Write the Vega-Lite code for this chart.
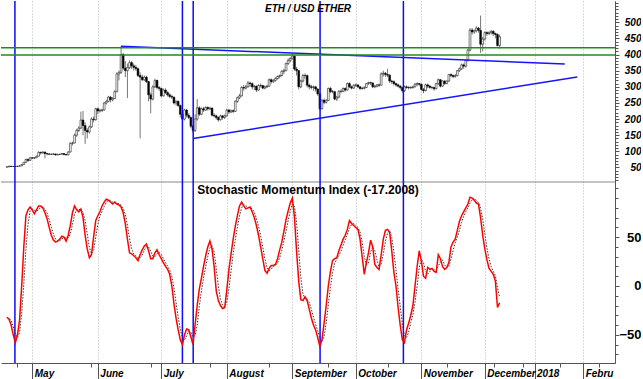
{
"$schema": "https://vega.github.io/schema/vega-lite/v6.json",
"padding": 0,
"background": "white",
"width": 614,
"height": 362,
"config": {"view": {"stroke": null}, "font": "Liberation Sans"},
"datasets": {
"ohlc": [
{"d":-12,"o":51,"h":53,"l":50,"c":52},{"d":-11,"o":52,"h":55,"l":51,"c":54},{"d":-10,"o":54,"h":55,"l":52,"c":53},{"d":-9,"o":53,"h":54,"l":52,"c":53},{"d":-8,"o":53,"h":54,"l":52,"c":53},{"d":-7,"o":53,"h":55,"l":52,"c":54},{"d":-6,"o":54,"h":56,"l":53,"c":55},{"d":-5,"o":55,"h":60,"l":54,"c":59},{"d":-4,"o":59,"h":67,"l":58,"c":66},{"d":-3,"o":66,"h":77,"l":65,"c":75},{"d":-2,"o":75,"h":78,"l":68,"c":72},{"d":-1,"o":72,"h":82,"l":71,"c":80},
{"d":0,"o":80,"h":83,"l":76,"c":79},{"d":1,"o":79,"h":82,"l":76,"c":80},{"d":2,"o":80,"h":87,"l":79,"c":85},{"d":3,"o":85,"h":100,"l":84,"c":97},{"d":4,"o":97,"h":99,"l":90,"c":95},{"d":5,"o":95,"h":100,"l":93,"c":98},{"d":6,"o":98,"h":99,"l":78,"c":93},{"d":7,"o":93,"h":95,"l":88,"c":92},{"d":8,"o":92,"h":94,"l":89,"c":91},{"d":9,"o":91,"h":93,"l":89,"c":91},{"d":10,"o":91,"h":94,"l":89,"c":92},{"d":11,"o":92,"h":93,"l":87,"c":89},{"d":12,"o":89,"h":92,"l":88,"c":91},{"d":13,"o":91,"h":92,"l":89,"c":91},{"d":14,"o":91,"h":95,"l":90,"c":93},{"d":15,"o":93,"h":94,"l":88,"c":90},{"d":16,"o":90,"h":92,"l":87,"c":89},{"d":17,"o":89,"h":100,"l":88,"c":98},{"d":18,"o":98,"h":128,"l":97,"c":125},{"d":19,"o":125,"h":130,"l":118,"c":126},{"d":20,"o":126,"h":155,"l":124,"c":150},{"d":21,"o":150,"h":170,"l":145,"c":165},{"d":22,"o":165,"h":178,"l":160,"c":172},{"d":23,"o":172,"h":223,"l":170,"c":197},{"d":24,"o":197,"h":225,"l":150,"c":180},{"d":25,"o":180,"h":190,"l":123,"c":165},{"d":26,"o":165,"h":172,"l":140,"c":160},{"d":27,"o":160,"h":180,"l":155,"c":176},{"d":28,"o":176,"h":205,"l":172,"c":200},{"d":29,"o":200,"h":208,"l":190,"c":198},{"d":30,"o":198,"h":235,"l":195,"c":232},
{"d":31,"o":232,"h":236,"l":215,"c":225},{"d":32,"o":225,"h":232,"l":220,"c":227},{"d":33,"o":227,"h":232,"l":222,"c":228},{"d":34,"o":228,"h":252,"l":226,"c":250},{"d":35,"o":250,"h":260,"l":245,"c":255},{"d":36,"o":255,"h":272,"l":252,"c":268},{"d":37,"o":268,"h":272,"l":252,"c":260},{"d":38,"o":260,"h":268,"l":255,"c":264},{"d":39,"o":264,"h":290,"l":262,"c":285},{"d":40,"o":285,"h":345,"l":283,"c":340},{"d":41,"o":340,"h":350,"l":320,"c":345},{"d":42,"o":345,"h":426,"l":340,"c":400},{"d":43,"o":400,"h":405,"l":352,"c":358},{"d":44,"o":358,"h":380,"l":330,"c":350},{"d":45,"o":350,"h":372,"l":265,"c":360},{"d":46,"o":360,"h":382,"l":355,"c":375},{"d":47,"o":375,"h":380,"l":355,"c":365},{"d":48,"o":365,"h":372,"l":350,"c":360},{"d":49,"o":360,"h":368,"l":350,"c":356},{"d":50,"o":356,"h":360,"l":330,"c":335},{"d":51,"o":335,"h":345,"l":140,"c":330},{"d":52,"o":330,"h":338,"l":318,"c":322},{"d":53,"o":322,"h":335,"l":318,"c":330},{"d":54,"o":330,"h":334,"l":312,"c":316},{"d":55,"o":316,"h":318,"l":255,"c":275},{"d":56,"o":275,"h":282,"l":218,"c":262},{"d":57,"o":262,"h":305,"l":258,"c":300},{"d":58,"o":300,"h":325,"l":296,"c":320},{"d":59,"o":320,"h":322,"l":292,"c":298},{"d":60,"o":298,"h":302,"l":288,"c":295},
{"d":61,"o":295,"h":298,"l":268,"c":272},{"d":62,"o":272,"h":295,"l":270,"c":290},{"d":63,"o":290,"h":295,"l":278,"c":282},{"d":64,"o":282,"h":286,"l":270,"c":275},{"d":65,"o":275,"h":280,"l":265,"c":270},{"d":66,"o":270,"h":275,"l":262,"c":268},{"d":67,"o":268,"h":270,"l":245,"c":250},{"d":68,"o":250,"h":258,"l":242,"c":255},{"d":69,"o":255,"h":258,"l":238,"c":242},{"d":70,"o":242,"h":245,"l":205,"c":215},{"d":71,"o":215,"h":220,"l":195,"c":200},{"d":72,"o":200,"h":232,"l":196,"c":228},{"d":73,"o":228,"h":232,"l":205,"c":212},{"d":74,"o":212,"h":218,"l":200,"c":205},{"d":75,"o":205,"h":208,"l":172,"c":178},{"d":76,"o":178,"h":182,"l":158,"c":165},{"d":77,"o":165,"h":215,"l":160,"c":200},{"d":78,"o":200,"h":262,"l":195,"c":235},{"d":79,"o":235,"h":240,"l":210,"c":215},{"d":80,"o":215,"h":236,"l":212,"c":232},{"d":81,"o":232,"h":238,"l":222,"c":228},{"d":82,"o":228,"h":240,"l":225,"c":236},{"d":83,"o":236,"h":240,"l":226,"c":232},{"d":84,"o":232,"h":238,"l":228,"c":234},{"d":85,"o":234,"h":236,"l":208,"c":212},{"d":86,"o":212,"h":218,"l":205,"c":210},{"d":87,"o":210,"h":214,"l":198,"c":205},{"d":88,"o":205,"h":208,"l":192,"c":198},{"d":89,"o":198,"h":214,"l":195,"c":210},{"d":90,"o":210,"h":212,"l":198,"c":205},{"d":91,"o":205,"h":214,"l":200,"c":210},
{"d":92,"o":210,"h":232,"l":208,"c":228},{"d":93,"o":228,"h":232,"l":216,"c":222},{"d":94,"o":222,"h":230,"l":218,"c":226},{"d":95,"o":226,"h":230,"l":219,"c":224},{"d":96,"o":224,"h":258,"l":222,"c":255},{"d":97,"o":255,"h":270,"l":250,"c":266},{"d":98,"o":266,"h":278,"l":262,"c":272},{"d":99,"o":272,"h":302,"l":270,"c":298},{"d":100,"o":298,"h":306,"l":288,"c":296},{"d":101,"o":296,"h":306,"l":292,"c":300},{"d":102,"o":300,"h":318,"l":298,"c":312},{"d":103,"o":312,"h":316,"l":300,"c":310},{"d":104,"o":310,"h":314,"l":292,"c":300},{"d":105,"o":300,"h":306,"l":290,"c":302},{"d":106,"o":302,"h":304,"l":284,"c":290},{"d":107,"o":290,"h":308,"l":288,"c":304},{"d":108,"o":304,"h":310,"l":298,"c":304},{"d":109,"o":304,"h":306,"l":292,"c":296},{"d":110,"o":296,"h":304,"l":292,"c":300},{"d":111,"o":300,"h":306,"l":296,"c":302},{"d":112,"o":302,"h":326,"l":300,"c":322},{"d":113,"o":322,"h":326,"l":310,"c":316},{"d":114,"o":316,"h":324,"l":312,"c":320},{"d":115,"o":320,"h":330,"l":316,"c":326},{"d":116,"o":326,"h":335,"l":322,"c":332},{"d":117,"o":332,"h":338,"l":326,"c":335},{"d":118,"o":335,"h":352,"l":332,"c":348},{"d":119,"o":348,"h":356,"l":340,"c":350},{"d":120,"o":350,"h":375,"l":348,"c":372},{"d":121,"o":372,"h":388,"l":368,"c":382},{"d":122,"o":382,"h":392,"l":376,"c":388},
{"d":123,"o":388,"h":402,"l":384,"c":395},{"d":124,"o":395,"h":398,"l":350,"c":355},{"d":125,"o":355,"h":362,"l":335,"c":350},{"d":126,"o":350,"h":352,"l":292,"c":300},{"d":127,"o":300,"h":322,"l":296,"c":318},{"d":128,"o":318,"h":340,"l":314,"c":335},{"d":129,"o":335,"h":342,"l":325,"c":335},{"d":130,"o":335,"h":338,"l":298,"c":305},{"d":131,"o":305,"h":310,"l":292,"c":300},{"d":132,"o":300,"h":306,"l":292,"c":298},{"d":133,"o":298,"h":304,"l":288,"c":300},{"d":134,"o":300,"h":302,"l":285,"c":293},{"d":135,"o":293,"h":296,"l":272,"c":278},{"d":136,"o":278,"h":282,"l":226,"c":232},{"d":137,"o":232,"h":262,"l":230,"c":258},{"d":138,"o":258,"h":264,"l":246,"c":252},{"d":139,"o":252,"h":262,"l":248,"c":258},{"d":140,"o":258,"h":298,"l":256,"c":295},{"d":141,"o":295,"h":300,"l":280,"c":285},{"d":142,"o":285,"h":290,"l":280,"c":285},{"d":143,"o":285,"h":288,"l":258,"c":262},{"d":144,"o":262,"h":272,"l":256,"c":268},{"d":145,"o":268,"h":290,"l":265,"c":286},{"d":146,"o":286,"h":292,"l":280,"c":286},{"d":147,"o":286,"h":298,"l":283,"c":295},{"d":148,"o":295,"h":298,"l":285,"c":290},{"d":149,"o":290,"h":314,"l":288,"c":310},{"d":150,"o":310,"h":314,"l":296,"c":300},{"d":151,"o":300,"h":304,"l":292,"c":296},{"d":152,"o":296,"h":308,"l":294,"c":305},
{"d":153,"o":305,"h":310,"l":300,"c":306},{"d":154,"o":306,"h":308,"l":296,"c":300},{"d":155,"o":300,"h":302,"l":290,"c":295},{"d":156,"o":295,"h":300,"l":291,"c":295},{"d":157,"o":295,"h":302,"l":292,"c":298},{"d":158,"o":298,"h":312,"l":296,"c":310},{"d":159,"o":310,"h":316,"l":306,"c":313},{"d":160,"o":313,"h":316,"l":306,"c":312},{"d":161,"o":312,"h":314,"l":296,"c":300},{"d":162,"o":300,"h":306,"l":296,"c":302},{"d":163,"o":302,"h":308,"l":298,"c":306},{"d":164,"o":306,"h":310,"l":300,"c":305},{"d":165,"o":305,"h":345,"l":304,"c":340},{"d":166,"o":340,"h":350,"l":332,"c":342},{"d":167,"o":342,"h":346,"l":330,"c":338},{"d":168,"o":338,"h":356,"l":330,"c":336},{"d":169,"o":336,"h":340,"l":312,"c":318},{"d":170,"o":318,"h":322,"l":308,"c":316},{"d":171,"o":316,"h":320,"l":304,"c":310},{"d":172,"o":310,"h":312,"l":300,"c":306},{"d":173,"o":306,"h":310,"l":298,"c":302},{"d":174,"o":302,"h":306,"l":292,"c":298},{"d":175,"o":298,"h":300,"l":282,"c":288},{"d":176,"o":288,"h":304,"l":284,"c":300},{"d":177,"o":300,"h":304,"l":294,"c":298},{"d":178,"o":298,"h":302,"l":292,"c":297},{"d":179,"o":297,"h":302,"l":294,"c":298},{"d":180,"o":298,"h":304,"l":294,"c":300},{"d":181,"o":300,"h":312,"l":298,"c":308},{"d":182,"o":308,"h":314,"l":302,"c":310},{"d":183,"o":310,"h":312,"l":302,"c":308},
{"d":184,"o":308,"h":310,"l":288,"c":292},{"d":185,"o":292,"h":296,"l":280,"c":288},{"d":186,"o":288,"h":310,"l":286,"c":306},{"d":187,"o":306,"h":310,"l":296,"c":302},{"d":188,"o":302,"h":306,"l":294,"c":298},{"d":189,"o":298,"h":302,"l":292,"c":298},{"d":190,"o":298,"h":300,"l":288,"c":294},{"d":191,"o":294,"h":312,"l":292,"c":310},{"d":192,"o":310,"h":326,"l":306,"c":322},{"d":193,"o":322,"h":324,"l":298,"c":302},{"d":194,"o":302,"h":320,"l":300,"c":318},{"d":195,"o":318,"h":320,"l":306,"c":310},{"d":196,"o":310,"h":320,"l":308,"c":318},{"d":197,"o":318,"h":340,"l":316,"c":338},{"d":198,"o":338,"h":342,"l":330,"c":335},{"d":199,"o":335,"h":338,"l":326,"c":332},{"d":200,"o":332,"h":340,"l":328,"c":335},{"d":201,"o":335,"h":352,"l":332,"c":350},{"d":202,"o":350,"h":360,"l":346,"c":356},{"d":203,"o":356,"h":372,"l":352,"c":368},{"d":204,"o":368,"h":372,"l":356,"c":364},{"d":205,"o":364,"h":385,"l":360,"c":382},{"d":206,"o":382,"h":418,"l":378,"c":414},{"d":207,"o":414,"h":482,"l":410,"c":476},{"d":208,"o":476,"h":482,"l":462,"c":470},{"d":209,"o":470,"h":478,"l":464,"c":474},{"d":210,"o":474,"h":488,"l":468,"c":482},{"d":211,"o":482,"h":486,"l":468,"c":475},{"d":212,"o":475,"h":521,"l":405,"c":432},{"d":213,"o":432,"h":455,"l":410,"c":448},
{"d":214,"o":448,"h":472,"l":444,"c":468},{"d":215,"o":468,"h":472,"l":458,"c":465},{"d":216,"o":465,"h":472,"l":460,"c":468},{"d":217,"o":468,"h":476,"l":462,"c":472},{"d":218,"o":472,"h":475,"l":458,"c":465},{"d":219,"o":465,"h":468,"l":450,"c":462},{"d":220,"o":462,"h":466,"l":425,"c":428},{"d":221,"o":428,"h":462,"l":418,"c":455}
],
"smi": [
{"d":-12,"smi":-32,"sig":-32},{"d":-11,"smi":-34,"sig":-33},{"d":-10,"smi":-40,"sig":-35.3},{"d":-9,"smi":-50,"sig":-41.3},{"d":-8,"smi":-58,"sig":-49.3},{"d":-7,"smi":-50,"sig":-52.7},{"d":-6,"smi":-35,"sig":-47.7},{"d":-5,"smi":0,"sig":-28.3},{"d":-4,"smi":40,"sig":1.7},{"d":-3,"smi":72,"sig":37.3},{"d":-2,"smi":78,"sig":63.3},{"d":-1,"smi":81,"sig":77},
{"d":0,"smi":78,"sig":79},{"d":1,"smi":74,"sig":77.7},{"d":2,"smi":78,"sig":76.7},{"d":3,"smi":82,"sig":78},{"d":4,"smi":82,"sig":80.7},{"d":5,"smi":80,"sig":81.3},{"d":6,"smi":75,"sig":79},{"d":7,"smi":69,"sig":74.7},{"d":8,"smi":60,"sig":68},{"d":9,"smi":52,"sig":60.3},{"d":10,"smi":47,"sig":53},{"d":11,"smi":45,"sig":48},{"d":12,"smi":46,"sig":46},{"d":13,"smi":48,"sig":46.3},{"d":14,"smi":51,"sig":48.3},{"d":15,"smi":50,"sig":49.7},{"d":16,"smi":46,"sig":49},{"d":17,"smi":52,"sig":49.3},{"d":18,"smi":62,"sig":53.3},{"d":19,"smi":75,"sig":63},{"d":20,"smi":82,"sig":73},{"d":21,"smi":78,"sig":78.3},{"d":22,"smi":76,"sig":78.7},{"d":23,"smi":79,"sig":77.7},{"d":24,"smi":70,"sig":75},{"d":25,"smi":52,"sig":67},{"d":26,"smi":38,"sig":53.3},{"d":27,"smi":29,"sig":39.7},{"d":28,"smi":32,"sig":33},{"d":29,"smi":50,"sig":37},{"d":30,"smi":67,"sig":49.7},
{"d":31,"smi":72,"sig":63},{"d":32,"smi":76,"sig":71.7},{"d":33,"smi":82,"sig":76.7},{"d":34,"smi":86,"sig":81.3},{"d":35,"smi":89,"sig":85.7},{"d":36,"smi":88,"sig":87.7},{"d":37,"smi":86,"sig":87.7},{"d":38,"smi":84,"sig":86},{"d":39,"smi":86,"sig":85.3},{"d":40,"smi":84,"sig":84.7},{"d":41,"smi":83,"sig":84.3},{"d":42,"smi":81,"sig":82.7},{"d":43,"smi":75,"sig":79.7},{"d":44,"smi":64,"sig":73.3},{"d":45,"smi":48,"sig":62.3},{"d":46,"smi":34,"sig":48.7},{"d":47,"smi":33,"sig":38.3},{"d":48,"smi":31,"sig":32.7},{"d":49,"smi":29,"sig":31},{"d":50,"smi":26,"sig":28.7},{"d":51,"smi":32,"sig":29},{"d":52,"smi":37,"sig":31.7},{"d":53,"smi":41,"sig":36.7},{"d":54,"smi":43,"sig":40.3},{"d":55,"smi":36,"sig":40},{"d":56,"smi":28,"sig":35.7},{"d":57,"smi":28,"sig":30.7},{"d":58,"smi":34,"sig":30},{"d":59,"smi":37,"sig":33},{"d":60,"smi":32,"sig":34.3},
{"d":61,"smi":28,"sig":32.3},{"d":62,"smi":24,"sig":28},{"d":63,"smi":20,"sig":24},{"d":64,"smi":17,"sig":20.3},{"d":65,"smi":12,"sig":16.3},{"d":66,"smi":0,"sig":9.7},{"d":67,"smi":-18,"sig":-2},{"d":68,"smi":-33,"sig":-17},{"d":69,"smi":-45,"sig":-32},{"d":70,"smi":-55,"sig":-44.3},{"d":71,"smi":-60,"sig":-53.3},{"d":72,"smi":-50,"sig":-55},{"d":73,"smi":-44,"sig":-51.3},{"d":74,"smi":-45,"sig":-46.3},{"d":75,"smi":-52,"sig":-47},{"d":76,"smi":-60,"sig":-52.3},{"d":77,"smi":-40,"sig":-50.7},{"d":78,"smi":-20,"sig":-40},{"d":79,"smi":-3,"sig":-21},{"d":80,"smi":8,"sig":-5},{"d":81,"smi":20,"sig":8.3},{"d":82,"smi":31,"sig":19.7},{"d":83,"smi":40,"sig":30.3},{"d":84,"smi":46,"sig":39},{"d":85,"smi":38,"sig":41.3},{"d":86,"smi":20,"sig":34.7},{"d":87,"smi":-5,"sig":17.7},{"d":88,"smi":-15,"sig":0},{"d":89,"smi":-20,"sig":-13.3},{"d":90,"smi":-23,"sig":-19.3},{"d":91,"smi":-22,"sig":-21.7},
{"d":92,"smi":-4,"sig":-16.3},{"d":93,"smi":17,"sig":-3},{"d":94,"smi":33,"sig":15.3},{"d":95,"smi":48,"sig":32.7},{"d":96,"smi":61,"sig":47.3},{"d":97,"smi":72,"sig":60.3},{"d":98,"smi":82,"sig":71.7},{"d":99,"smi":86,"sig":80},{"d":100,"smi":82,"sig":83.3},{"d":101,"smi":79,"sig":82.3},{"d":102,"smi":80,"sig":80.3},{"d":103,"smi":81,"sig":80},{"d":104,"smi":76,"sig":79},{"d":105,"smi":70,"sig":75.7},{"d":106,"smi":62,"sig":69.3},{"d":107,"smi":52,"sig":61.3},{"d":108,"smi":40,"sig":51.3},{"d":109,"smi":28,"sig":40},{"d":110,"smi":16,"sig":28},{"d":111,"smi":13,"sig":19},{"d":112,"smi":18,"sig":15.7},{"d":113,"smi":21,"sig":17.3},{"d":114,"smi":21,"sig":20},{"d":115,"smi":22,"sig":21.3},{"d":116,"smi":28,"sig":23.7},{"d":117,"smi":37,"sig":29},{"d":118,"smi":45,"sig":36.7},{"d":119,"smi":56,"sig":46},{"d":120,"smi":68,"sig":56.3},{"d":121,"smi":77,"sig":67},{"d":122,"smi":85,"sig":76.7},
{"d":123,"smi":90,"sig":84},{"d":124,"smi":70,"sig":81.7},{"d":125,"smi":35,"sig":65},{"d":126,"smi":5,"sig":36.7},{"d":127,"smi":-14,"sig":8.7},{"d":128,"smi":-15,"sig":-8},{"d":129,"smi":-11,"sig":-13.3},{"d":130,"smi":-15,"sig":-13.7},{"d":131,"smi":-24,"sig":-16.7},{"d":132,"smi":-33,"sig":-24},{"d":133,"smi":-40,"sig":-32.3},{"d":134,"smi":-45,"sig":-39.3},{"d":135,"smi":-53,"sig":-46},{"d":136,"smi":-62,"sig":-53.3},{"d":137,"smi":-55,"sig":-56.7},{"d":138,"smi":-38,"sig":-51.7},{"d":139,"smi":-20,"sig":-37.7},{"d":140,"smi":0,"sig":-19.3},{"d":141,"smi":15,"sig":-1.7},{"d":142,"smi":26,"sig":13.7},{"d":143,"smi":28,"sig":23},{"d":144,"smi":29,"sig":27.7},{"d":145,"smi":36,"sig":31},{"d":146,"smi":42,"sig":35.7},{"d":147,"smi":48,"sig":42},{"d":148,"smi":52,"sig":47.3},{"d":149,"smi":58,"sig":52.7},{"d":150,"smi":67,"sig":59},{"d":151,"smi":64,"sig":63},{"d":152,"smi":62,"sig":64.3},
{"d":153,"smi":60,"sig":62},{"d":154,"smi":58,"sig":60},{"d":155,"smi":48,"sig":55.3},{"d":156,"smi":30,"sig":45.3},{"d":157,"smi":12,"sig":30},{"d":158,"smi":24,"sig":22},{"d":159,"smi":34,"sig":23.3},{"d":160,"smi":47,"sig":35},{"d":161,"smi":40,"sig":40.3},{"d":162,"smi":22,"sig":36.3},{"d":163,"smi":19,"sig":27},{"d":164,"smi":17,"sig":19.3},{"d":165,"smi":32,"sig":22.7},{"d":166,"smi":48,"sig":32.3},{"d":167,"smi":57,"sig":45.7},{"d":168,"smi":58,"sig":54.3},{"d":169,"smi":55,"sig":56.7},{"d":170,"smi":36,"sig":49.7},{"d":171,"smi":14,"sig":35},{"d":172,"smi":0,"sig":16.7},{"d":173,"smi":-22,"sig":-2.7},{"d":174,"smi":-40,"sig":-20.7},{"d":175,"smi":-55,"sig":-39},{"d":176,"smi":-58,"sig":-51},{"d":177,"smi":-45,"sig":-52.7},{"d":178,"smi":-38,"sig":-47},{"d":179,"smi":-30,"sig":-37.7},{"d":180,"smi":-20,"sig":-29.3},{"d":181,"smi":0,"sig":-16.7},{"d":182,"smi":20,"sig":0},{"d":183,"smi":36,"sig":18.7},
{"d":184,"smi":26,"sig":27.3},{"d":185,"smi":10,"sig":24},{"d":186,"smi":8,"sig":14.7},{"d":187,"smi":19,"sig":12.3},{"d":188,"smi":17,"sig":14.7},{"d":189,"smi":18,"sig":18},{"d":190,"smi":15,"sig":16.7},{"d":191,"smi":14,"sig":15.7},{"d":192,"smi":32,"sig":20.3},{"d":193,"smi":28,"sig":24.7},{"d":194,"smi":20,"sig":26.7},{"d":195,"smi":17,"sig":21.7},{"d":196,"smi":19,"sig":18.7},{"d":197,"smi":24,"sig":20},{"d":198,"smi":40,"sig":27.7},{"d":199,"smi":45,"sig":36.3},{"d":200,"smi":48,"sig":44.3},{"d":201,"smi":57,"sig":50},{"d":202,"smi":66,"sig":57},{"d":203,"smi":72,"sig":65},{"d":204,"smi":76,"sig":71.3},{"d":205,"smi":80,"sig":76},{"d":206,"smi":84,"sig":80},{"d":207,"smi":91,"sig":85},{"d":208,"smi":90,"sig":88.3},{"d":209,"smi":88,"sig":89.7},{"d":210,"smi":85,"sig":87.7},{"d":211,"smi":84,"sig":85.7},{"d":212,"smi":70,"sig":79.7},{"d":213,"smi":52,"sig":68.7},
{"d":214,"smi":38,"sig":53.3},{"d":215,"smi":27,"sig":39},{"d":216,"smi":18,"sig":27.7},{"d":217,"smi":15,"sig":20},{"d":218,"smi":12,"sig":15},{"d":219,"smi":5,"sig":10.7},{"d":220,"smi":-22,"sig":-1.7},{"d":221,"smi":-17.2,"sig":-11.4}
],
"vlines": [{"d":-8.2},{"d":71},{"d":76.1},{"d":136.1},{"d":175.5}],
"levels": [{"p":421},{"p":399}],
"trend": [{"line":"upper","d":42,"p":425.5},{"line":"upper","d":251.8,"p":370.9},{"line":"lower","d":76.1,"p":140},{"line":"lower","d":257.7,"p":330.5}]
},
"resolve": {"scale": {"y": "independent"}, "axis": {"y": "independent", "x": "independent"}},
"layer": [
{
"layer": [
{"data": {"name": "ohlc"}, "mark": {"type": "rule", "color": "#777777", "strokeWidth": 1},
 "encoding": {
  "x": {"field": "d", "type": "quantitative", "scale": {"domain": [-12.42, 273.2], "nice": false, "zero": false},
        "axis": {"orient": "bottom", "title": null, "values": [-7,7,14,21,28,35,42,49,56,63,70,77,84,91,98,105,112,119,126,133,140,147,154,161,168,175,182,189,196,203,207.4,210.8,218.3,221.5,225.1,228.7,232.2,234.9,242.1,245.7,249.6,253.5,257,264.3,267.9,271.3], "labels": false, "tickSize": 4, "tickColor": "#555555", "domain": false, "grid": false}},
  "y": {"field": "l", "type": "quantitative", "scale": {"domain": [-556, 566], "nice": false, "zero": false},
        "axis": {"orient": "right", "title": null, "values": [50,100,150,200,250,300,350,400,450,500], "tickSize": 4, "tickColor": "#555555", "domainColor": "#555555", "labelAlign": "right", "labelBaseline": "middle", "labelPadding": 22, "labelFont": "Liberation Sans", "labelFontSize": 10, "labelFontWeight": "bold", "labelFontStyle": "italic", "labelColor": "#000000", "labelOverlap": false, "labelFlush": false, "grid": false}},
  "y2": {"field": "h"}
 }},
{"data": {"name": "ohlc"}, "mark": {"type": "bar", "size": 1.8, "stroke": "#000000", "strokeWidth": 0.5},
 "encoding": {
  "x": {"field": "d", "type": "quantitative"},
  "y": {"field": "o", "type": "quantitative"},
  "y2": {"field": "c"},
  "fill": {"condition": {"test": "datum.c >= datum.o", "value": "#ffffff"}, "value": "#000000"}
 }},
{"data": {"values": [{}]}, "mark": {"type": "rule", "color": "#888888", "strokeWidth": 1},
 "encoding": {"y": {"datum": 5, "type": "quantitative"}}},
{"data": {"name": "vlines"}, "mark": {"type": "rule", "color": "#0a0aff", "strokeWidth": 1.5},
 "encoding": {"x": {"field": "d", "type": "quantitative"}}},
{"data": {"name": "trend"}, "mark": {"type": "line", "color": "#1414ff", "strokeWidth": 1.5},
 "encoding": {"x": {"field": "d", "type": "quantitative"}, "y": {"field": "p", "type": "quantitative"}, "detail": {"field": "line"}}},
{"data": {"name": "levels"}, "mark": {"type": "rule", "color": "#1e8a1e", "strokeWidth": 1.5},
 "encoding": {"y": {"field": "p", "type": "quantitative"}}},
{"data": {"values": [{}]}, "mark": {"type": "text", "text": "ETH / USD ETHER", "font": "Liberation Sans", "fontSize": 10, "fontWeight": "bold", "fontStyle": "italic", "align": "center", "baseline": "middle", "color": "#000000"},
 "encoding": {"x": {"datum": 130.4, "type": "quantitative"}, "y": {"datum": 542.5, "type": "quantitative"}}}
]
},
{
"layer": [
{"data": {"name": "smi"}, "mark": {"type": "line", "color": "#333333", "strokeWidth": 1, "strokeDash": [1.5, 1.5]},
 "encoding": {"x": {"field": "d", "type": "quantitative",
   "axis": {"orient": "bottom", "title": null, "values": [0,31,61,92,123,153,184,214,237.5,260.5],
     "labelExpr": "['May','June','July','August','September','October','November','December','2018','Febru'][indexof([0,31,61,92,123,153,184,214,237.5,260.5], datum.value)]",
     "labelAlign": "left", "labelBaseline": "top", "labelPadding": -11, "labelOffset": 2, "labelFlush": false, "labelOverlap": false, "labelFont": "Liberation Sans", "labelFontSize": 10, "labelFontWeight": "bold", "labelFontStyle": "italic", "labelColor": "#000000",
     "tickSize": 16, "tickColor": "#555555", "domainColor": "#555555", "grid": true, "gridColor": "#b8b8b8", "gridDash": [1,2], "gridWidth": 1}},
   "y": {"field": "sig", "type": "quantitative", "scale": {"domain": [-78.9, 292], "nice": false, "zero": false},
     "axis": {"orient": "right", "title": null, "values": [-50,0,50], "tickSize": 4, "tickColor": "#555555", "domainColor": "#555555", "labelAlign": "right", "labelBaseline": "middle", "labelPadding": 22, "labelFont": "Liberation Sans", "labelFontSize": 13, "labelFontWeight": "bold", "labelColor": "#000000", "labelOverlap": false, "labelFlush": false, "grid": false}}}},
{"data": {"name": "smi"}, "mark": {"type": "line", "color": "#ff0000", "strokeWidth": 1.5},
 "encoding": {"x": {"field": "d", "type": "quantitative"}, "y": {"field": "smi", "type": "quantitative"}}},
{"data": {"values": [{}]}, "mark": {"type": "text", "text": "Stochastic Momentum Index (-17.2008)", "font": "Liberation Sans", "fontSize": 12, "fontWeight": "bold", "align": "center", "baseline": "middle", "color": "#000000"},
 "encoding": {"x": {"datum": 130.4, "type": "quantitative"}, "y": {"datum": 98.4, "type": "quantitative"}}}
]
},
{
"data": {"values": [{}]},
"mark": {"type": "point", "opacity": 0},
"encoding": {"y": {"datum": 300, "type": "quantitative", "scale": {"domain": [-556, 566], "nice": false, "zero": false},
  "axis": {"orient": "right", "title": null, "values": [10,20,30,40,60,70,80,90,110,120,130,140,160,170,180,190,210,220,230,240,260,270,280,290,310,320,330,340,360,370,380,390,410,420,430,440,460,470,480,490,510,520,530,540,550,560], "labels": false, "tickSize": 3, "tickColor": "#555555", "domain": false, "grid": false}}}
},
{
"data": {"values": [{}]},
"mark": {"type": "point", "opacity": 0},
"encoding": {"y": {"datum": 0, "type": "quantitative", "scale": {"domain": [-78.9, 292], "nice": false, "zero": false},
  "axis": {"orient": "right", "title": null, "values": [-70,-60,-40,-30,-20,-10,10,20,30,40,60,70,80,90,100], "labels": false, "tickSize": 3, "tickColor": "#555555", "domain": false, "grid": false}}}
}
]
}
